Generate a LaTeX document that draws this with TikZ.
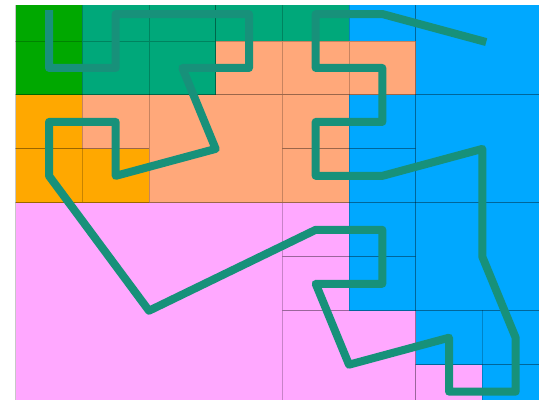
\documentclass[tikz,border=0pt]{standalone}
\usepackage{tikz}
\definecolor{qgreen}{RGB}{0,168,0}
\definecolor{qteal}{RGB}{0,168,122}
\definecolor{qsalmon}{RGB}{255,168,122}
\definecolor{qorange}{RGB}{255,168,0}
\definecolor{qpink}{RGB}{255,168,255}
\definecolor{qblue}{RGB}{0,168,255}
\definecolor{qcurve}{RGB}{23,145,122}

\begin{document}
\begin{tikzpicture}[
  x=50pt, y=-40.46pt,
  leaf/.style={rectangle, anchor=north west, inner sep=0pt, outer sep=0pt,
               draw=black, draw opacity=0.22, line width=0.75pt},
  unitleaf/.style={leaf, minimum width=50pt, minimum height=40.46pt},
  quadleaf/.style={leaf, minimum width=100pt, minimum height=80.92pt},
  bigleaf/.style={leaf, minimum width=200pt, minimum height=161.84pt},
  hilbert/.style={draw=qcurve, line width=6pt, line cap=rect, line join=round}
]
  \useasboundingbox (-0.235,0.240) rectangle (7.85,7.654);
  \clip (-0.03,0.3327) rectangle (7.85,7.654);
  \node[unitleaf, fill=qgreen]  (u00) at (0,0) {};
  \node[unitleaf, fill=qgreen]  (u01) at (0,1) {};
  \node[unitleaf, fill=qteal]   (u10) at (1,0) {};
  \node[unitleaf, fill=qteal]   (u11) at (1,1) {};
  \node[unitleaf, fill=qteal]   (u20) at (2,0) {};
  \node[unitleaf, fill=qteal]   (u30) at (3,0) {};
  \node[unitleaf, fill=qteal]   (u21) at (2,1) {};
  \node[unitleaf, fill=qsalmon] (u31) at (3,1) {};
  \node[unitleaf, fill=qorange] (u02) at (0,2) {};
  \node[unitleaf, fill=qsalmon] (u12) at (1,2) {};
  \node[unitleaf, fill=qorange] (u03) at (0,3) {};
  \node[unitleaf, fill=qorange] (u13) at (1,3) {};
  \node[quadleaf, fill=qsalmon] (q22) at (2,2) {};
  \node[bigleaf, fill=qpink]    (b04) at (0,4) {};
  \node[unitleaf, fill=qteal]   (u40) at (4,0) {};
  \node[unitleaf, fill=qblue]   (u50) at (5,0) {};
  \node[unitleaf, fill=qsalmon] (u41) at (4,1) {};
  \node[unitleaf, fill=qsalmon] (u51) at (5,1) {};
  \node[quadleaf, fill=qblue]   (q60) at (6,0) {};
  \node[unitleaf, fill=qsalmon] (u42) at (4,2) {};
  \node[unitleaf, fill=qblue]   (u52) at (5,2) {};
  \node[unitleaf, fill=qsalmon] (u43) at (4,3) {};
  \node[unitleaf, fill=qblue]   (u53) at (5,3) {};
  \node[quadleaf, fill=qblue]   (q62) at (6,2) {};
  \node[unitleaf, fill=qpink]   (u44) at (4,4) {};
  \node[unitleaf, fill=qblue]   (u54) at (5,4) {};
  \node[unitleaf, fill=qpink]   (u45) at (4,5) {};
  \node[unitleaf, fill=qblue]   (u55) at (5,5) {};
  \node[quadleaf, fill=qblue]   (q64) at (6,4) {};
  \node[quadleaf, fill=qpink]   (q46) at (4,6) {};
  \node[unitleaf, fill=qblue]   (u66) at (6,6) {};
  \node[unitleaf, fill=qblue]   (u76) at (7,6) {};
  \node[unitleaf, fill=qpink]   (u67) at (6,7) {};
  \node[unitleaf, fill=qblue]   (u77) at (7,7) {};
  \draw[hilbert] (u00.center) -- (u01.center) -- (u11.center) -- (u10.center)
    -- (u20.center) -- (u30.center) -- (u31.center) -- (u21.center)
    -- (q22.center) -- (u13.center) -- (u12.center) -- (u02.center) -- (u03.center)
    -- (b04.center) -- (u44.center) -- (u54.center) -- (u55.center) -- (u45.center)
    -- (q46.center) -- (u66.center) -- (u67.center) -- (u77.center) -- (u76.center)
    -- (q64.center) -- (q62.center) -- (u53.center) -- (u43.center) -- (u42.center)
    -- (u52.center) -- (u51.center) -- (u41.center) -- (u40.center) -- (u50.center)
    -- (q60.center);
\end{tikzpicture}
\end{document}
